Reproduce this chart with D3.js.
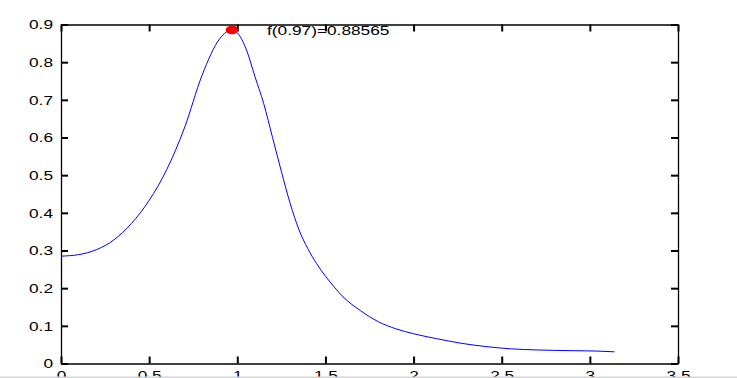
<!DOCTYPE html>
<html>
<head>
<meta charset="utf-8">
<script src="https://cdn.jsdelivr.net/npm/d3@7"></script>
<style>
  html, body { margin: 0; padding: 0; background: #fff; overflow: hidden; }
  svg { display: block; }
  text { font-family: "Liberation Sans", Arial, sans-serif; font-size: 13px; fill: #000; }
</style>
</head>
<body>
<svg id="chart" width="737" height="378"></svg>
<script>
// ---- data ----
const xValues = [0.00, 0.10, 0.20, 0.30, 0.40, 0.50, 0.60, 0.70, 0.80, 0.90, 0.97,
                 1.00, 1.05, 1.10, 1.15, 1.20, 1.25, 1.30, 1.35, 1.40, 1.45, 1.50, 1.55, 1.60,
                 1.70, 1.80, 1.90, 2.00, 2.13, 2.28, 2.41, 2.55, 2.70, 2.90, 3.04, 3.14];
const yValues = [0.285, 0.289, 0.302, 0.328, 0.372, 0.433, 0.515, 0.625, 0.765, 0.862, 0.886,
                 0.878, 0.835, 0.762, 0.690, 0.600, 0.510, 0.425, 0.355, 0.305, 0.265, 0.232, 0.203, 0.177,
                 0.140, 0.111, 0.092, 0.079, 0.066, 0.053, 0.045, 0.039, 0.036, 0.034, 0.033, 0.031];
const xTicks = [0, 0.5, 1, 1.5, 2, 2.5, 3, 3.5];
const xTickLabels = ["0", "0.5", "1", "1.5", "2", "2.5", "3", "3.5"];
const yTicks = [0, 0.1, 0.2, 0.3, 0.4, 0.5, 0.6, 0.7, 0.8, 0.9];
const yTickLabels = ["0", "0.1", "0.2", "0.3", "0.4", "0.5", "0.6", "0.7", "0.8", "0.9"];
const peakX = [0.97];
const peakY = [0.88565];
const peakLabel = ["f(0.97)=0.88565"];

// ---- layout ----
const W = 737, H = 378;
const mLeft = 61, mRight = 678, mTop = 24.5, mBottom = 363.5;
const stretch = 1.33;

const svg = d3.select("#chart");
const x = d3.scaleLinear().domain([0, 3.5]).range([mLeft, mRight]);
const y = d3.scaleLinear().domain([0, 0.9]).range([mBottom, mTop]);

function stretchText(sel) {
  sel.each(function () {
    const t = d3.select(this);
    const tx = +t.attr("x") || 0;
    t.attr("x", tx / stretch).attr("transform", `scale(${stretch},1)`);
  });
}

// axes with inward ticks on all four sides
const gB = svg.append("g").attr("transform", `translate(0,${mBottom})`)
  .call(d3.axisBottom(x).tickValues(xTicks).tickFormat((d, i) => xTickLabels[i]).tickSizeInner(-7).tickSizeOuter(0).tickPadding(7));
const gL = svg.append("g").attr("transform", `translate(${mLeft},0)`)
  .call(d3.axisLeft(y).tickValues(yTicks).tickFormat((d, i) => yTickLabels[i]).tickSizeInner(-7).tickSizeOuter(0).tickPadding(8));
const gT = svg.append("g").attr("transform", `translate(0,${mTop})`)
  .call(d3.axisTop(x).tickValues(xTicks).tickFormat("").tickSizeInner(-7).tickSizeOuter(0));
const gR = svg.append("g").attr("transform", `translate(${mRight},0)`)
  .call(d3.axisRight(y).tickValues(yTicks).tickFormat("").tickSizeInner(-7).tickSizeOuter(0));

[gB, gL, gT, gR].forEach(g => {
  g.attr("font-family", null).attr("font-size", null);
  g.selectAll("path.domain").attr("stroke", "#000").attr("stroke-width", 1.3);
  g.selectAll(".tick line").attr("stroke", "#000").attr("stroke-width", 2);
  g.selectAll(".tick text").attr("fill", "#000");
});
gB.selectAll(".tick text").call(stretchText);
gL.selectAll(".tick text").call(stretchText);

// curve
const line = d3.line()
  .x((d, i) => x(xValues[i]))
  .y((d, i) => y(yValues[i]))
  .curve(d3.curveMonotoneX);
svg.append("path")
  .datum(xValues)
  .attr("d", line)
  .attr("fill", "none")
  .attr("stroke", "#0000ff")
  .attr("stroke-width", 1);

// peak marker and label
svg.selectAll("ellipse.peak").data(peakX).enter().append("ellipse")
  .attr("class", "peak")
  .attr("cx", (d) => x(d))
  .attr("cy", (d, i) => y(peakY[i]))
  .attr("rx", 6.3).attr("ry", 4.4)
  .attr("fill", "#ff0000");

svg.selectAll("text.peaklabel").data(peakX).enter().append("text")
  .attr("class", "peaklabel")
  .attr("x", (d) => x(d) + 35)
  .attr("y", (d, i) => y(peakY[i]) + 4.7)
  .text((d, i) => peakLabel[i])
  .call(stretchText);

// light gray bottom strip
svg.append("rect").attr("x", 0).attr("y", 376.5).attr("width", W).attr("height", 1.5).attr("fill", "#d4d4d4");
</script>
</body>
</html>
